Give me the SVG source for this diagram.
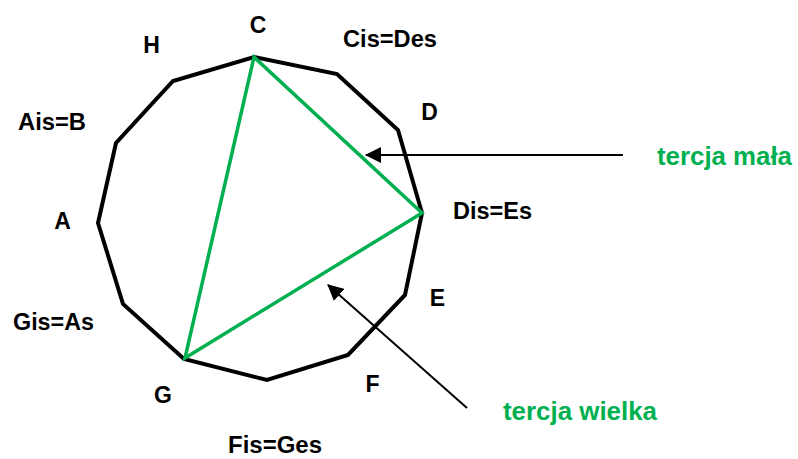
<svg xmlns="http://www.w3.org/2000/svg" width="798" height="459" viewBox="0 0 798 459">
<style>
.lbl{font-family:"Liberation Sans",Arial,sans-serif;font-weight:bold;font-size:23px;fill:#000}
.glbl{font-family:"Liberation Sans",Arial,sans-serif;font-weight:bold;font-size:26px;fill:#00B050}
.poly{fill:none;stroke:#000;stroke-width:4;stroke-linejoin:miter}
.tri{fill:none;stroke:#00B050;stroke-width:3.5;stroke-linejoin:miter}
.arr{stroke:#000;stroke-width:2;fill:none}
</style>
<defs>
<marker id="ah" markerWidth="8" markerHeight="8" refX="7.5" refY="4" orient="auto" markerUnits="strokeWidth">
<path d="M0,0 L8,4 L0,8 Z" fill="#000"/>
</marker>
</defs>
<rect width="798" height="459" fill="#fff"/>
<g id="circle">
<polygon class="poly" points="254,57 337,74 398,130 422,213 405,295 348,355 267,380 184,359 123,304 98,223 116,143 173,81"/>
</g>
<g id="triangle">
<polygon class="tri" points="254,57 422,213 185,358"/>
</g>
<g id="connectors">
<line class="arr" x1="623" y1="155" x2="366" y2="155" marker-end="url(#ah)"/>
<line class="arr" x1="467" y1="408" x2="328" y2="285" marker-end="url(#ah)"/>
</g>
<g id="labels">
<g id="n-C"><text class="lbl" x="258" y="33" text-anchor="middle">C</text></g>
<g id="n-Cis"><text class="lbl" x="343" y="47" textLength="94" lengthAdjust="spacingAndGlyphs">Cis=Des</text></g>
<g id="n-D"><text class="lbl" x="429.5" y="120" text-anchor="middle">D</text></g>
<g id="n-Dis"><text class="lbl" x="453" y="219" textLength="79" lengthAdjust="spacingAndGlyphs">Dis=Es</text></g>
<g id="n-E"><text class="lbl" x="437.5" y="306" text-anchor="middle">E</text></g>
<g id="n-F"><text class="lbl" x="372.5" y="392" text-anchor="middle">F</text></g>
<g id="n-Fis"><text class="lbl" x="228" y="453" textLength="94" lengthAdjust="spacingAndGlyphs">Fis=Ges</text></g>
<g id="n-G"><text class="lbl" x="163" y="403" text-anchor="middle">G</text></g>
<g id="n-Gis"><text class="lbl" x="13" y="330" textLength="81" lengthAdjust="spacingAndGlyphs">Gis=As</text></g>
<g id="n-A"><text class="lbl" x="62.5" y="229" text-anchor="middle">A</text></g>
<g id="n-Ais"><text class="lbl" x="18" y="130" textLength="68" lengthAdjust="spacingAndGlyphs">Ais=B</text></g>
<g id="n-H"><text class="lbl" x="151.5" y="53" text-anchor="middle">H</text></g>
<g id="n-mala"><text class="glbl" x="657" y="165" textLength="135" lengthAdjust="spacingAndGlyphs">tercja mała</text></g>
<g id="n-wielka"><text class="glbl" x="503" y="420" textLength="154" lengthAdjust="spacingAndGlyphs">tercja wielka</text></g>
</g>
</svg>
